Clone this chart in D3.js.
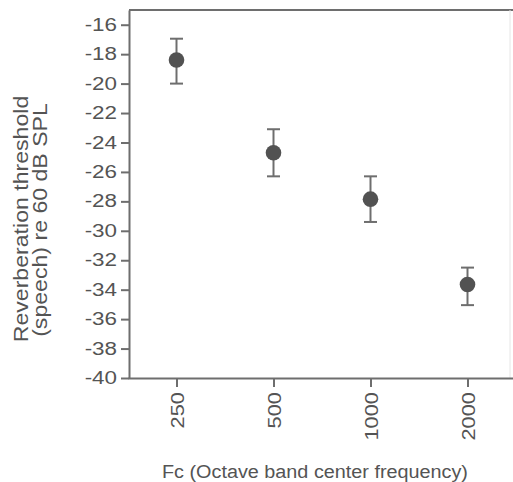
<!DOCTYPE html>
<html>
<head>
<meta charset="utf-8">
<script src="https://cdn.jsdelivr.net/npm/d3@7"></script>
<style>
  body { margin: 0; background: #fff; }
  text { font-family: "Liberation Sans", Arial, sans-serif; fill: #545454; }
</style>
</head>
<body>
<svg id="chart" width="513" height="482"></svg>
<script>
var width = 513;
var height = 482;

// values
var freqs = ['250', '500', '1000', '2000'];
var means = [-18.4, -24.7, -27.85, -33.65];
var upper = [-16.95, -23.1, -26.3, -32.5];
var lower = [-20.0, -26.3, -29.4, -35.05];
var yTicks = d3.range(-40, -15, 2);

var axisColor = '#6e6e6e';
var dotColor = '#525252';

var plotLeft = 129, plotTop = 10, plotBottom = 378, plotRight = 516;

var svg = d3.select('#chart');

var x = d3.scalePoint().domain(freqs).range([plotLeft - 1, plotRight]).padding(0.5);
var y = d3.scaleLinear().domain([-40, -15]).range([plotBottom, plotTop]);

// stretch text to the wide lettering of the scan
function stretch(sel, factor) {
    sel.each(function() {
        var len = this.getComputedTextLength();
        d3.select(this)
            .attr('textLength', len * factor)
            .attr('lengthAdjust', 'spacingAndGlyphs');
    });
}

// frame top and faint right edge
svg.append('line')
    .attr('x1', plotLeft).attr('x2', width)
    .attr('y1', plotTop).attr('y2', plotTop)
    .attr('stroke', axisColor).attr('stroke-width', 2);
svg.append('line')
    .attr('x1', 510).attr('x2', 510)
    .attr('y1', plotTop).attr('y2', plotBottom)
    .attr('stroke', '#e6e6e6').attr('stroke-width', 1);

var yAxis = svg.append('g')
    .attr('transform', 'translate(' + plotLeft + ',0)')
    .call(d3.axisLeft(y).tickValues(yTicks).tickSize(8).tickPadding(4)
        .tickSizeOuter(0).tickFormat(d3.format('d')));

var xAxis = svg.append('g')
    .attr('transform', 'translate(0,' + plotBottom + ')')
    .call(d3.axisBottom(x).tickSize(9).tickSizeOuter(0));

[yAxis, xAxis].forEach(function(g) {
    g.select('.domain').attr('stroke', axisColor).attr('stroke-width', 2);
    g.selectAll('.tick line').attr('stroke', axisColor).attr('stroke-width', 2);
});

// plain hyphen like the original
yAxis.selectAll('.tick text')
    .text(function(d) { return String(d); })
    .style('font-size', '17.5px')
    .attr('fill', '#545454')
    .call(stretch, 1.28);

xAxis.selectAll('.tick text')
    .style('font-size', '18.5px')
    .attr('fill', '#545454')
    .attr('text-anchor', 'end')
    .attr('x', 0).attr('y', 0).attr('dy', '0.36em')
    .attr('transform', 'translate(0,14) rotate(-90)')
    .call(stretch, 1.18);

// error bars and dots
var pts = freqs.map(function(f, i) {
    return { f: f, mean: means[i], hi: upper[i], lo: lower[i] };
});

var g = svg.append('g')
    .selectAll('g.pt')
    .data(pts)
    .join('g')
    .classed('pt', true)
    .attr('transform', function(d) { return 'translate(' + x(d.f) + ',0)'; });

g.append('line')
    .attr('y1', function(d) { return y(d.hi); })
    .attr('y2', function(d) { return y(d.lo); })
    .attr('stroke', axisColor).attr('stroke-width', 2);

g.append('line')
    .attr('x1', -6.5).attr('x2', 6.5)
    .attr('y1', function(d) { return y(d.hi); })
    .attr('y2', function(d) { return y(d.hi); })
    .attr('stroke', axisColor).attr('stroke-width', 2);

g.append('line')
    .attr('x1', -6.5).attr('x2', 6.5)
    .attr('y1', function(d) { return y(d.lo); })
    .attr('y2', function(d) { return y(d.lo); })
    .attr('stroke', axisColor).attr('stroke-width', 2);

g.append('circle')
    .attr('cy', function(d) { return y(d.mean); })
    .attr('r', 7.8)
    .attr('fill', dotColor);

// axis titles
svg.append('text')
    .attr('text-anchor', 'middle')
    .attr('transform', 'translate(28,219) rotate(-90)')
    .style('font-size', '21px')
    .text('Reverberation threshold')
    .call(stretch, 1.1);

svg.append('text')
    .attr('text-anchor', 'middle')
    .attr('transform', 'translate(47,220) rotate(-90)')
    .style('font-size', '21px')
    .text('(speech) re 60 dB SPL')
    .call(stretch, 1.1);

svg.append('text')
    .attr('text-anchor', 'middle')
    .attr('x', 315).attr('y', 478)
    .style('font-size', '18px')
    .text('Fc (Octave band center frequency)')
    .call(stretch, 1.1);
</script>
</body>
</html>
